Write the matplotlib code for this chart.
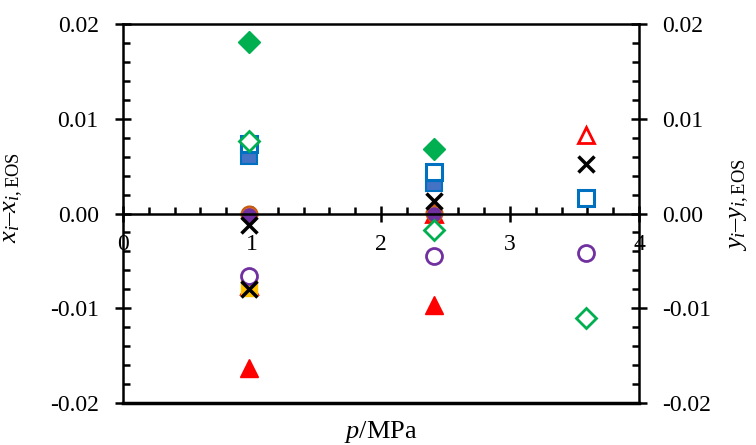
import matplotlib
matplotlib.use("Agg")
import matplotlib.pyplot as plt
from matplotlib.ticker import MultipleLocator, FuncFormatter

plt.rcParams["font.family"] = ["Liberation Serif", "DejaVu Serif"]
plt.rcParams["mathtext.fontset"] = "custom"
plt.rcParams["mathtext.rm"] = "Liberation Serif"
plt.rcParams["mathtext.it"] = "Liberation Serif:italic"
plt.rcParams["axes.unicode_minus"] = False

# Liquid-phase deviations x_i - x_i,EOS (filled markers)
p_x_green = [0.98, 2.41]
dx_green = [0.0181, 0.0068]
p_x_blue = [0.98, 2.41]
dx_blue = [0.0061, 0.0032]
p_x_orange = [0.98, 2.41]
dx_orange = [0.0000, 0.0001]
p_x_purple = [0.98, 2.41]
dx_purple = [-0.0002, 0.0000]
p_x_gold = [0.98]
dx_gold = [-0.0079]
p_x_red = [0.98, 2.41]
dx_red = [-0.0163, -0.0097]
p_x_black = [0.98, 2.41]
dx_black = [-0.0012, 0.0013]

# Vapour-phase deviations y_i - y_i,EOS (open markers)
p_y_green = [0.98, 2.41, 3.59]
dy_green = [0.0077, -0.0017, -0.0110]
p_y_blue = [0.98, 2.41, 3.59]
dy_blue = [0.0073, 0.0044, 0.0016]
p_y_purple = [0.98, 2.41, 3.59]
dy_purple = [-0.0066, -0.0045, -0.0042]
p_y_red = [0.98, 2.41, 3.59]
dy_red = [-0.0076, 0.0000, 0.0083]
p_y_black = [0.98, 3.59]
dy_black = [-0.0080, 0.0052]

x_ticks = [0, 1, 2, 3, 4]
y_ticks = [-0.02, -0.01, 0.00, 0.01, 0.02]

fig = plt.figure(figsize=(7.56, 4.45), dpi=100)
ax = fig.add_axes([0.1627, 0.0944, 0.6825, 0.8516])

ms = 11.5
ax.plot(p_y_red, dy_red, ls="none", marker="^", ms=ms, mfc="white", mec="#FF0000", mew=2)
ax.plot(p_x_orange, dx_orange, ls="none", marker="o", ms=ms, mfc="#ED7D31", mec="#C55A11", mew=1.5)
ax.plot(p_x_purple, dx_purple, ls="none", marker="o", ms=ms - 2, mfc="#7030A0", mec="#7030A0")
ax.plot(p_x_gold, dx_gold, ls="none", marker="s", ms=ms, mfc="#FFC000", mec="#FFC000")
ax.plot(p_x_red, dx_red, ls="none", marker="^", ms=ms + 1, mfc="#FF0000", mec="#FF0000")
ax.plot(p_x_blue, dx_blue, ls="none", marker="s", ms=ms, mfc="#4472C4", mec="#0070C0", mew=1.5)
ax.plot(p_y_blue, dy_blue, ls="none", marker="s", ms=ms, mfc="white", mec="#0070C0", mew=2.2)
ax.plot(p_x_green, dx_green, ls="none", marker="D", ms=ms, mfc="#00B050", mec="#00B050")
ax.plot(p_y_green, dy_green, ls="none", marker="D", ms=ms - 1.5, mfc="white", mec="#00B050", mew=2)
ax.plot(p_y_purple, dy_purple, ls="none", marker="o", ms=ms, mfc="white", mec="#7030A0", mew=2)
ax.plot(p_x_black, dx_black, ls="none", marker="x", ms=ms + 0.5, mec="black", mew=2.5)
ax.plot(p_y_black, dy_black, ls="none", marker="x", ms=ms + 0.5, mec="black", mew=2.5)

ax.set_xlim(0, 4)
ax.set_ylim(-0.02, 0.02)

fmt = FuncFormatter(lambda v, pos: f"{v:.2f}")

# x axis runs through y = 0; the frame is closed top and bottom
ax.spines["bottom"].set_position(("data", 0))
ax.spines["right"].set_visible(False)
for s in ax.spines.values():
    s.set_linewidth(1.8)
ax.plot([0, 1], [0, 0], transform=ax.transAxes, color="black", lw=2.5, clip_on=False)

ax.set_xticks(x_ticks)
ax.set_xticklabels([str(t) for t in x_ticks])
ax.xaxis.set_minor_locator(MultipleLocator(0.2))
ax.set_yticks(y_ticks)
ax.yaxis.set_major_formatter(fmt)
ax.yaxis.set_minor_locator(MultipleLocator(0.002))
ax.tick_params(which="major", direction="inout", length=11, width=1.8, labelsize=17)
ax.tick_params(which="minor", direction="in", length=5, width=1.8)
ax.tick_params(axis="x", which="major", pad=9)
ax.tick_params(axis="y", which="major", pad=12)

ax2 = ax.twinx()
ax2.set_ylim(-0.02, 0.02)
for name in ["left", "top", "bottom"]:
    ax2.spines[name].set_visible(False)
ax2.spines["right"].set_linewidth(1.8)
ax2.set_yticks(y_ticks)
ax2.yaxis.set_major_formatter(fmt)
ax2.yaxis.set_minor_locator(MultipleLocator(0.002))
ax2.tick_params(which="major", direction="inout", length=11, width=1.8, labelsize=17, pad=11)
ax2.tick_params(which="minor", direction="in", length=5, width=1.8)

fig.text(14 / 756, 1 - 198 / 445, r"$x_i$–$x_{i,\mathrm{EOS}}$", fontsize=19,
         rotation=90, ha="center", va="center")
fig.text(740 / 756, 1 - 205 / 445, r"$y_i$–$y_{i,\mathrm{EOS}}$", fontsize=19,
         rotation=90, ha="center", va="center")
fig.text(381 / 756, 1 - 432 / 445, r"$p$/MPa", fontsize=19, ha="center", va="center")

fig.savefig("out.png", dpi=100)
